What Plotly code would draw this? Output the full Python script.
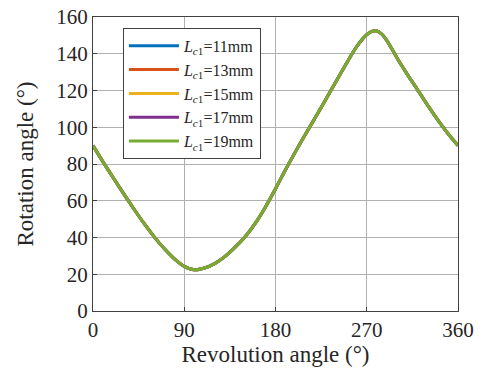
import plotly.graph_objects as go

# Data
revolution = [0, 10, 20, 30, 40, 50, 60, 70, 80, 90, 100, 110, 120, 130, 140, 150,
              160, 170, 180, 190, 200, 210, 220, 230, 240, 250, 255, 260, 265, 270,
              275, 280, 285, 290, 295, 300, 310, 320, 330, 340, 350, 360]
rotation = [90, 81, 72.5, 64, 55.8, 47.9, 40.6, 34.1, 28.5, 24.3, 22.4, 23.4, 25.8,
            29.6, 34.6, 40.4, 47.7, 56.5, 66.5, 77, 87, 96.6, 106, 115.5, 125.2, 134.8,
            139.5, 143.8, 147.5, 150.4, 152.2, 152.4, 150.6, 147, 142.4, 137.6,
            128.8, 120.5, 112, 104, 96.6, 90]

series_names = ["11", "13", "15", "17", "19"]
series_colors = ["#0072BD", "#D95319", "#EDB120", "#7E2F8E", "#77AC30"]
x_ticks = [0, 90, 180, 270, 360]
y_ticks = [0, 20, 40, 60, 80, 100, 120, 140, 160]

fig = go.Figure()
for name, color in zip(series_names, series_colors):
    fig.add_trace(go.Scatter(
        x=revolution, y=rotation, mode="lines",
        line=dict(color=color, width=3, shape="spline", smoothing=0.7),
        name=f"<i>L</i><sub><i>c</i>1</sub>={name}mm",
    ))

font_family = "Liberation Serif"
axis_common = dict(
    showline=True, linecolor="#404040", linewidth=1, mirror=True,
    showgrid=True, gridcolor="#b0b0b0", gridwidth=1,
    ticks="inside", ticklen=4, tickcolor="#404040",
    zeroline=False, automargin=False,
    tickfont=dict(family=font_family, size=21, color="#262626"),
)

fig.update_layout(
    width=486, height=382,
    margin=dict(l=93, r=28, t=17, b=71),
    paper_bgcolor="white", plot_bgcolor="white",
    font=dict(family=font_family, color="#262626"),
    xaxis=dict(range=[0, 360], tickvals=x_ticks,
               title=dict(text="Revolution angle (°)", font=dict(family=font_family, size=23), standoff=0),
               **axis_common),
    yaxis=dict(range=[0, 160], tickvals=y_ticks,
               title=dict(text="Rotation angle (°)", font=dict(family=font_family, size=23), standoff=16),
               **axis_common),
    legend=dict(x=0.082, y=0.963, xanchor="left", yanchor="top",
                bgcolor="white", bordercolor="#404040", borderwidth=1,
                font=dict(family=font_family, size=16, color="#262626"),
                tracegroupgap=0, itemwidth=50),
    showlegend=True,
)

fig.write_html("out.html", config={"displayModeBar": False},
               post_script="document.body.style.margin='0';")
